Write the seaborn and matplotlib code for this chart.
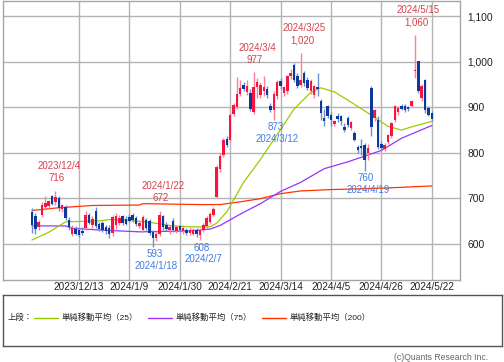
import numpy as np
import pandas as pd
import seaborn as sns
import matplotlib.pyplot as plt
from matplotlib.ticker import FuncFormatter

# daily candles 2023/11/22 .. 2024/5/22 (trading-day index 0..119)
opens = [670, 660, 636, 662, 680, 682, 704, 692, 700, 676, 680, 652, 622, 632, 630,
         628, 634, 662, 640, 672, 644, 646, 636, 634, 624, 640, 646, 660, 654, 658,
         664, 656, 638, 630, 652, 650, 626, 612, 622, 660, 640, 630, 650, 628, 638,
         628, 630, 624, 622, 630, 620, 630, 638, 648, 664, 703, 765, 795, 830, 828,
         886, 900, 930, 950, 934, 931, 890, 945, 928, 935, 940, 903, 894, 924, 957,
         932, 935, 968, 993, 968, 950, 975, 960, 935, 928, 945, 913, 877, 902, 883,
         864, 882, 880, 857, 876, 854, 843, 812, 815, 817, 800, 942, 876, 872, 820,
         808, 824, 836, 872, 890, 902, 904, 900, 902, 979, 1001, 920, 960, 899, 888]
highs = [678, 668, 652, 692, 704, 696, 708, 716, 704, 688, 684, 658, 642, 638, 634,
         636, 672, 668, 660, 680, 648, 650, 640, 640, 662, 668, 662, 664, 660, 666,
         668, 660, 652, 662, 656, 654, 630, 628, 672, 664, 648, 640, 656, 640, 642,
         640, 634, 636, 634, 634, 634, 646, 660, 670, 680, 772, 800, 832, 836, 888,
         910, 967, 960, 955, 960, 940, 977, 965, 956, 970, 948, 910, 935, 960, 965,
         948, 972, 985, 998, 975, 1020, 980, 966, 962, 950, 975, 918, 896, 906, 890,
         872, 888, 884, 866, 880, 870, 848, 818, 830, 822, 820, 946, 896, 880, 826,
         822, 842, 868, 906, 902, 908, 908, 904, 916, 1060, 1003, 952, 962, 902, 892]
lows = [623, 622, 630, 658, 675, 678, 684, 686, 672, 670, 652, 630, 616, 618, 614,
        620, 630, 644, 634, 634, 628, 626, 622, 612, 616, 632, 640, 640, 640, 648,
        648, 638, 634, 626, 630, 618, 593, 606, 616, 630, 628, 622, 626, 624, 626,
        622, 620, 618, 618, 614, 608, 626, 634, 644, 660, 700, 758, 790, 812, 824,
        880, 896, 926, 936, 928, 892, 885, 920, 920, 925, 920, 890, 873, 918, 940,
        926, 930, 962, 955, 942, 944, 948, 938, 930, 920, 926, 872, 860, 876, 860,
        860, 868, 862, 846, 856, 850, 825, 800, 795, 760, 784, 838, 870, 808, 806,
        804, 820, 832, 868, 884, 894, 890, 893, 900, 965, 932, 915, 888, 880, 870]
closes = [640, 632, 647, 686, 690, 694, 688, 703, 678, 684, 656, 636, 634, 622, 620,
          624, 664, 646, 654, 638, 632, 630, 628, 622, 658, 660, 656, 646, 644, 650,
          652, 644, 646, 658, 634, 624, 612, 622, 664, 636, 632, 636, 630, 636, 630,
          634, 624, 630, 630, 622, 630, 642, 656, 666, 676, 769, 792, 828, 818, 884,
          905, 930, 942, 940, 948, 896, 945, 955, 950, 945, 928, 895, 930, 956, 946,
          944, 968, 976, 960, 946, 960, 953, 942, 958, 946, 940, 888, 869, 880, 872,
          869, 874, 870, 850, 861, 868, 828, 806, 810, 784, 810, 857, 894, 813, 810,
          818, 839, 865, 902, 898, 897, 895, 896, 914, 982, 935, 948, 895, 883, 874]

# moving averages read at knots (trading-day index, price)
ma25_idx = [0, 5, 10, 20, 23, 29, 35, 42, 47, 53, 55, 58, 63, 68, 73, 78, 83, 86, 90, 94, 101, 106, 110, 113, 119]
ma25_val = [608, 625, 648, 650, 653, 651, 647, 639, 637, 637, 645, 670, 735, 785, 840, 896, 933, 943, 934, 916, 883, 858, 850, 857, 869]
ma75_idx = [0, 10, 12, 20, 32, 47, 53, 56, 62, 68, 74, 80, 87, 94, 104, 110, 119]
ma75_val = [639, 639, 634, 630, 626, 628, 632, 640, 665, 688, 715, 735, 765, 780, 805, 832, 860]
ma200_idx = [0, 8, 18, 32, 33, 50, 56, 62, 68, 74, 80, 89, 104, 119]
ma200_val = [673, 679, 684, 685, 688, 686, 686, 692, 699, 710, 716, 719, 722, 727]

tick_idx = [14, 29, 44, 59, 74, 89, 104, 119]
tick_labels = ["2023/12/13", "2024/1/9", "2024/1/30", "2024/2/21",
               "2024/3/14", "2024/4/5", "2024/4/26", "2024/5/22"]

high_idx = [7, 38, 66, 80, 114]
high_dates = ["2023/12/4", "2024/1/22", "2024/3/4", "2024/3/25", "2024/5/15"]
low_idx = [36, 50, 72, 99]
low_dates = ["2024/1/18", "2024/2/7", "2024/3/12", "2024/4/19"]

legend_labels = ["単純移動平均（25）", "単純移動平均（75）", "単純移動平均（200）"]

UP, DOWN = "#f5163f", "#0b3a9c"
UP_W, DOWN_W = "#ff7f98", "#6f8fd0"
C25, C75, C200 = "#99cc00", "#9933ff", "#ff3300"
RED_TXT, BLUE_TXT = "#d9404a", "#3f7be8"


def main():
    df = pd.DataFrame({"open": opens, "high": highs, "low": lows, "close": closes})
    df["i"] = np.arange(len(df))
    up = df["close"] >= df["open"]

    sns.set_theme(style="white")
    plt.rcParams['font.family'] = ['Liberation Sans', 'Noto Sans CJK JP']

    fig = plt.figure(figsize=(5.04, 3.62), dpi=100)
    ax = fig.add_axes([3 / 504, 1 - 280 / 362, 457 / 504, 279 / 362])

    for xs, ys, col in [(ma200_idx, ma200_val, C200),
                        (ma75_idx, ma75_val, C75),
                        (ma25_idx, ma25_val, C25)]:
        sns.lineplot(x=xs, y=ys, ax=ax, color=col, linewidth=0.9, zorder=2)

    wick_col = np.where(up, UP_W, DOWN_W)
    body_col = np.where(up, UP, DOWN)
    ax.vlines(df["i"], df["low"], df["high"], colors=wick_col, linewidth=1.0, zorder=3)
    bottom = np.minimum(df["open"], df["close"])
    height = np.maximum(np.abs(df["close"] - df["open"]), 2.5)
    ax.bar(df["i"], height, bottom=bottom, width=0.74, color=body_col, linewidth=0, zorder=4)

    for i, d in zip(high_idx, high_dates):
        v = highs[i]
        ax.annotate(f"{v:,}", (i, v), xytext=(1, 9), textcoords="offset points",
                    ha="center", va="center", fontsize=7, color=RED_TXT)
        ax.annotate(d, (i, v), xytext=(2.5, 17.6), textcoords="offset points",
                    ha="center", va="center", fontsize=7, color=RED_TXT)
    for i, d in zip(low_idx, low_dates):
        v = lows[i]
        ax.annotate(f"{v:,}", (i, v), xytext=(1, -5.4), textcoords="offset points",
                    ha="center", va="center", fontsize=7, color=BLUE_TXT)
        ax.annotate(d, (i, v), xytext=(2.5, -13.8), textcoords="offset points",
                    ha="center", va="center", fontsize=7, color=BLUE_TXT)

    ax.set_xlim(-8.6, 127.4)
    ax.set_ylim(520, 1134)
    ax.set_yticks([600, 700, 800, 900, 1000, 1100])
    ax.yaxis.set_major_formatter(FuncFormatter(lambda v, p: f"{int(v):,}"))
    ax.yaxis.tick_right()
    ax.set_xticks(tick_idx, tick_labels)
    ax.tick_params(axis="y", length=0, pad=5.5, labelsize=7.4, labelcolor="#222222")
    ax.tick_params(axis="x", length=0, pad=1.5, labelsize=7.2, labelcolor="#222222")
    ax.grid(True, color="#b4b4b4", linewidth=1.0)
    ax.set_axisbelow(True)
    for s in ax.spines.values():
        s.set_color("#a6a6a6")
        s.set_linewidth(1.0)
    ax.set(xlabel="", ylabel="")

    # legend box
    lax = fig.add_axes([2.7 / 504, 1 - 346 / 362, 499.3 / 504, 51 / 362])
    lax.set_xlim(0, 499.3)
    lax.set_ylim(51, 0)
    lax.set_xticks([])
    lax.set_yticks([])
    for s in lax.spines.values():
        s.set_color("#555555")
        s.set_linewidth(1.0)
    lax.text(5, 23, "上段：", fontsize=6, va="center", ha="left", color="#222222")
    for x0, lab, col in zip([31, 145, 259], legend_labels, [C25, C75, C200]):
        lax.plot([x0, x0 + 24], [23, 23], color=col, linewidth=1.0)
        lax.text(x0 + 28, 23, lab, fontsize=6, va="center", ha="left", color="#222222")

    fig.text(488 / 504, 1 - 358 / 362, "(c)Quants Research Inc.", ha="right", va="center",
             fontsize=6.2, color="#666666")

    fig.savefig("out.png", dpi=100)


if __name__ == "__main__":
    main()
